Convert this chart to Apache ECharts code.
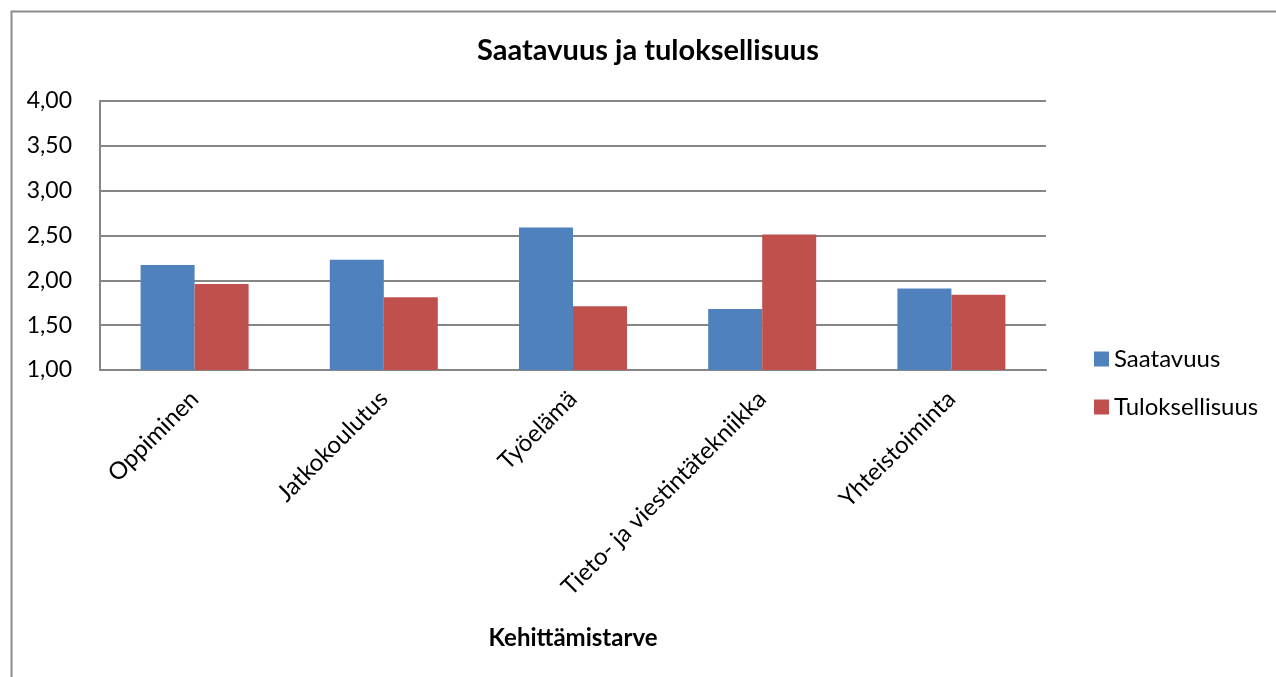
<!DOCTYPE html>
<html>
<head>
<meta charset="utf-8">
<script src="https://cdn.jsdelivr.net/npm/echarts@6/dist/echarts.min.js"></script>
<style>
  html, body { margin: 0; padding: 0; background: #fff; }
  #chart { width: 1276px; height: 677px; }
</style>
</head>
<body>
<div id="chart"></div>
<script>
const categories = ['Oppiminen', 'Jatkokoulutus', 'Työelämä', 'Tieto- ja viestintätekniikka', 'Yhteistoiminta']
const saatavuus = [2.17, 2.23, 2.59, 1.68, 1.91]
const tuloksellisuus = [1.96, 1.81, 1.71, 2.51, 1.84]

const font = 'Lato'
const chart = echarts.init(document.getElementById('chart'))

chart.setOption({
  animation: false,
  textStyle: { fontFamily: font },
  title: {
    text: 'Saatavuus ja tuloksellisuus',
    left: 643, top: 31, textAlign: 'center',
    textStyle: { fontSize: 29, fontWeight: 'bold', color: '#000', fontFamily: font }
  },
  graphic: [{
    type: 'rect', left: 9, top: 9, silent: true,
    shape: { width: 1300, height: 700 },
    style: { fill: 'none', stroke: '#8c8c8c', lineWidth: 2 }
  }],
  legend: {
    orient: 'vertical', left: 1089, top: 342,
    itemWidth: 15, itemHeight: 15, itemGap: 24,
    icon: 'rect',
    textStyle: { fontSize: 24, lineHeight: 24, color: '#000', fontFamily: font }
  },
  grid: { left: 100, right: 230, top: 101, bottom: 307 },
  xAxis: {
    type: 'category',
    data: categories,
    name: 'Kehittämistarve',
    nameLocation: 'middle',
    nameGap: 256,
    nameTextStyle: { fontSize: 24, fontWeight: 'bold', color: '#000' },
    axisLine: { lineStyle: { color: '#868686', width: 2 } },
    axisTick: { show: false },
    axisLabel: { rotate: 45, fontSize: 24, color: '#000', margin: 25, interval: 0 }
  },
  yAxis: {
    type: 'value',
    min: 1, max: 4, interval: 0.5,
    axisLine: { show: true, lineStyle: { color: '#868686', width: 2 } },
    axisTick: { show: false },
    splitLine: { lineStyle: { color: '#868686', width: 2 } },
    axisLabel: {
      fontSize: 23, color: '#000', margin: 28,
      formatter: v => v.toFixed(2).replace('.', ',')
    }
  },
  series: [
    {
      name: 'Saatavuus', type: 'bar', data: saatavuus,
      barWidth: 54, barGap: '0%',
      itemStyle: { color: '#4F81BD' }
    },
    {
      name: 'Tuloksellisuus', type: 'bar', data: tuloksellisuus,
      barWidth: 54, barGap: '0%',
      itemStyle: { color: '#C0504D' }
    }
  ]
})
</script>
</body>
</html>
